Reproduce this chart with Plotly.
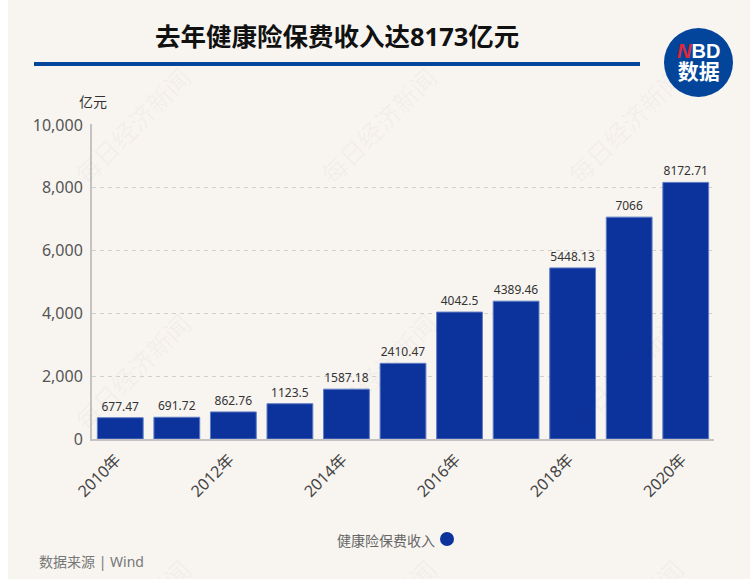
import plotly.graph_objects as go

W, H = 750, 579
years = ["2010年","2011年","2012年","2013年","2014年","2015年","2016年","2017年","2018年","2019年","2020年"]
values = [677.47, 691.72, 862.76, 1123.5, 1587.18, 2410.47, 4042.5, 4389.46, 5448.13, 7066, 8172.71]
labels = ["677.47","691.72","862.76","1123.5","1587.18","2410.47","4042.5","4389.46","5448.13","7066","8172.71"]
shown_years = ["2010年","2012年","2014年","2016年","2018年","2020年"]
y_ticks = [0, 2000, 4000, 6000, 8000, 10000]
series_name = "健康险保费收入"
title = "去年健康险保费收入达8173亿元"
source = "数据来源 | Wind"
watermark = "每日经济新闻"
wm_x = [132, 378, 625]
wm_y = [125, 371, 617]

CJK = "Noto Sans, Noto Sans CJK SC"
BG = "#f8f5f1"
BLUE = "#0c339b"
NAVY = "#03459a"
L, R, T, B = 92, 36, 124, 140
PW, PH = W - L - R, H - T - B

def px(x): return (x - L) / PW
def py(y): return (H - B - y) / PH

fig = go.Figure(go.Bar(
    x=years, y=values, text=labels, textposition="outside", cliponaxis=False,
    textangle=0, textfont=dict(family=CJK, size=12, color="#333333"),
    marker=dict(color=BLUE, line=dict(color="#5f7cc4", width=1)),
    name=series_name, showlegend=False,
))

annotations = []
for wy in wm_y:
    for wx in wm_x:
        annotations.append(dict(
            x=px(wx), y=py(wy), xref="paper", yref="paper", text=watermark, showarrow=False,
            textangle=-45, font=dict(family="Noto Sans CJK SC", size=25, color="rgba(60,50,40,0.055)"),
            xanchor="center", yanchor="middle"))

def note(x, y, text, size, color, anchor="left", bold=False):
    annotations.append(dict(
        x=px(x), y=py(y), xref="paper", yref="paper", showarrow=False, xanchor=anchor, yanchor="middle",
        text=f"<b>{text}</b>" if bold else text, font=dict(family=CJK, size=size, color=color)))

note(337, 36, title, 25.5, "#111111", "center", True)
note(77, 101, "亿元", 14, "#333333")
note(437, 540, series_name, 14, "#666666", "right")
note(37, 561, source, 14, "#777777")

annotations.append(dict(x=px(698), y=py(61), xref="paper", yref="paper", showarrow=False, xanchor="center", yanchor="middle",
    text="<b><i><span style='color:#e0273a;font-size:20px'>N</span></i><span style='font-size:20px;font-family:Liberation Sans'>BD</span></b><br><b><span style='font-size:21px'>数据</span></b>",
    font=dict(family="Liberation Sans, Noto Sans CJK SC", size=16, color="white")))

shapes = [
    dict(type="rect", xref="paper", yref="paper", x0=px(0), x1=px(8), y0=py(H), y1=py(0), fillcolor="white", line_width=0, layer="below"),
    dict(type="rect", xref="paper", yref="paper", x0=px(34), x1=px(640), y0=py(66), y1=py(62), fillcolor=NAVY, line_width=0),
    dict(type="circle", xref="paper", yref="paper", x0=px(664), x1=px(733), y0=py(97), y1=py(28), fillcolor=NAVY, line_width=0),
    dict(type="circle", xref="paper", yref="paper", x0=px(440), x1=px(454), y0=py(546), y1=py(532), fillcolor=BLUE, line_width=0),
]

fig.update_layout(
    width=W, height=H, autosize=False,
    margin=dict(l=L, r=R, t=T, b=B),
    paper_bgcolor=BG, plot_bgcolor="rgba(0,0,0,0)",
    bargap=0.19, showlegend=False,
    annotations=annotations, shapes=shapes,
    xaxis=dict(type="category", categoryorder="array", categoryarray=years, range=[-0.5, 10.5],
               tickmode="array", tickvals=shown_years, ticktext=shown_years, tickangle=-45, ticks="",
               tickfont=dict(family=CJK, size=16, color="#444444"),
               ticklabelstandoff=3, ticklabelshift=-4,
               showline=True, linecolor="#c4c2c2", linewidth=2, showgrid=False, zeroline=False),
    yaxis=dict(range=[0, 10032], tickmode="array", tickvals=y_ticks, tickformat=",d", ticks="",
               tickfont=dict(family=CJK, size=16, color="#555555"),
               ticklabelstandoff=4,
               showline=True, linecolor="#c4c2c2", linewidth=2, zeroline=False,
               showgrid=True, gridcolor="#d2d0cd", griddash="4px,4px", gridwidth=1),
)
fig.write_html("out.html", config=dict(displayModeBar=False),
               post_script="document.body.style.margin='0';document.documentElement.style.overflow='hidden';")
